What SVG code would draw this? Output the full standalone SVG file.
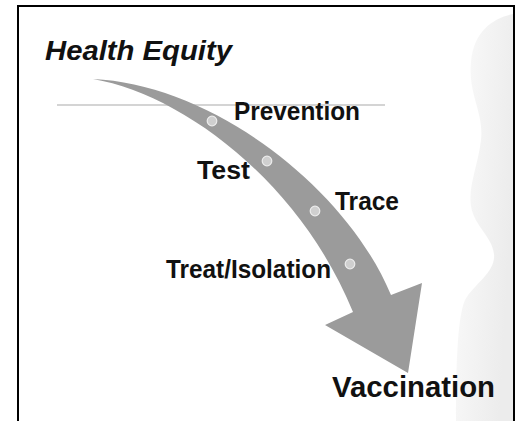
<svg xmlns="http://www.w3.org/2000/svg" width="522" height="421" viewBox="0 0 522 421">
  <style>
    .lbl { font-family: "Liberation Sans", Arial, sans-serif; font-weight: bold; fill: #111; }
    .dot { fill: #cfcfcf; stroke: #ececec; stroke-width: 1.2; }
    .band { fill: #9b9b9b; }
  </style>
  <defs>
    <linearGradient id="shade" x1="0" y1="0" x2="1" y2="0.4">
      <stop offset="0" stop-color="#fbfbfb"/>
      <stop offset="1" stop-color="#ececec"/>
    </linearGradient>
  </defs>

  <!-- page -->
  <rect x="0" y="0" width="522" height="421" fill="#ffffff"/>

  <!-- faint profile silhouette at the right edge -->
  <path d="M513,14 C494,18 474,30 471,62 C468,95 484,112 481,140 C478,166 468,186 471,206 C474,226 492,236 494,254 C496,272 474,284 465,300 C457,318 456,370 456,421 L513,421 Z" fill="url(#shade)"/>

  <!-- frame -->
  <path d="M18,421 L18,6 L514,6 L514,421" fill="none" stroke="#000" stroke-width="2"/>

  <!-- rule under the title -->
  <line x1="57" y1="105" x2="385" y2="105" stroke="#c6c6c6" stroke-width="1.5"/>

  <!-- curved arrow -->
  <g id="connectors">
    <path class="band" d="M93,79 C210,84 345,185 391,295 L422,283 L408,373 L325,325 L353,312 C300,182 182,94 93,79 Z"/>
  </g>

  <g id="title">
    <text class="lbl" x="45" y="60" font-size="27" font-style="italic" textLength="187" lengthAdjust="spacingAndGlyphs">Health Equity</text>
  </g>

  <g id="prevention">
    <circle class="dot" cx="212" cy="121" r="4.8"/>
    <text class="lbl" x="234" y="120" font-size="25" textLength="126" lengthAdjust="spacingAndGlyphs">Prevention</text>
  </g>

  <g id="test">
    <circle class="dot" cx="267" cy="161" r="4.8"/>
    <text class="lbl" x="197" y="179" font-size="25" textLength="53" lengthAdjust="spacingAndGlyphs">Test</text>
  </g>

  <g id="trace">
    <circle class="dot" cx="315" cy="211" r="4.8"/>
    <text class="lbl" x="335" y="210" font-size="25" textLength="64" lengthAdjust="spacingAndGlyphs">Trace</text>
  </g>

  <g id="treat">
    <circle class="dot" cx="350" cy="264" r="4.8"/>
    <text class="lbl" x="166" y="278" font-size="25" textLength="165" lengthAdjust="spacingAndGlyphs">Treat/Isolation</text>
  </g>

  <g id="vaccination">
    <text class="lbl" x="332" y="397" font-size="29" textLength="163" lengthAdjust="spacingAndGlyphs">Vaccination</text>
  </g>
</svg>
